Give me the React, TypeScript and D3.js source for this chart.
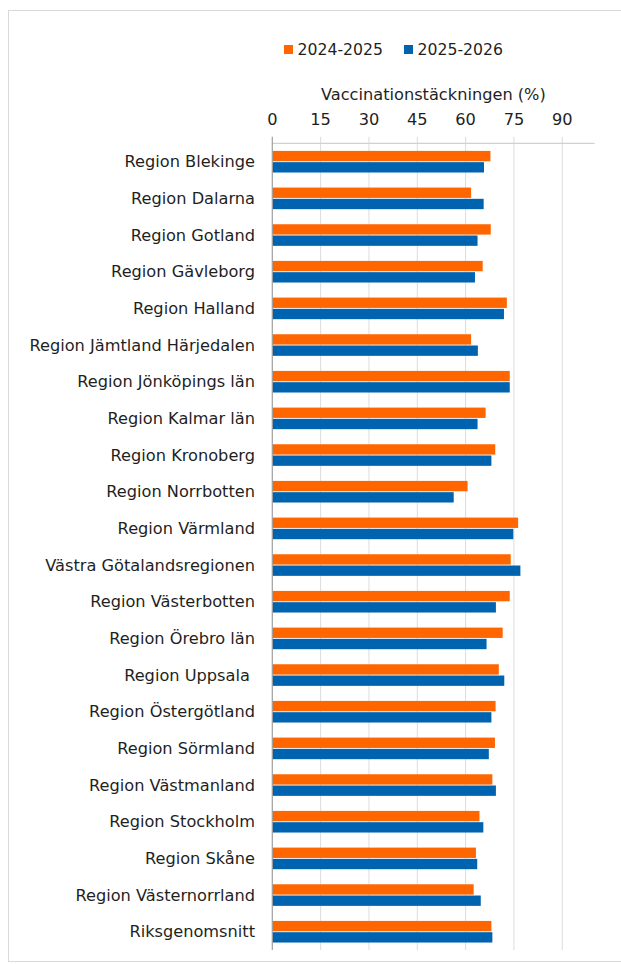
import React from "react"
import * as d3 from "d3"

const regions = [
  "Region Blekinge",
  "Region Dalarna",
  "Region Gotland",
  "Region Gävleborg",
  "Region Halland",
  "Region Jämtland Härjedalen",
  "Region Jönköpings län",
  "Region Kalmar län",
  "Region Kronoberg",
  "Region Norrbotten",
  "Region Värmland",
  "Västra Götalandsregionen",
  "Region Västerbotten",
  "Region Örebro län",
  "Region Uppsala ",
  "Region Östergötland",
  "Region Sörmland",
  "Region Västmanland",
  "Region Stockholm",
  "Region Skåne",
  "Region Västernorrland",
  "Riksgenomsnitt",
]

const seriesNames = ["2024-2025", "2025-2026"]
const seriesColors = ["#ff6600", "#0063b0"]

const v2425 = [67.7, 61.7, 67.8, 65.3, 72.8, 61.7, 73.7, 66.2, 69.2, 60.6, 76.3, 74.0, 73.7, 71.5, 70.3, 69.3, 69.1, 68.3, 64.3, 63.2, 62.5, 68.0]
const v2526 = [65.7, 65.6, 63.7, 62.9, 71.9, 63.8, 73.7, 63.7, 68.0, 56.3, 74.8, 77.0, 69.4, 66.5, 72.0, 68.0, 67.2, 69.4, 65.5, 63.6, 64.7, 68.3]

const xTicks = [0, 15, 30, 45, 60, 75, 90]
const axisTitle = "Vaccinationstäckningen (%)"

const W = 621
const H = 964
const FONT = "'DejaVu Sans', Verdana, sans-serif"
const TEXT = "#1f1f1f"
const FS = 16.2

export default function App() {
  const plotLeft = 272.3
  const plotRight = 594.5
  const plotTop = 143.3
  const plotBottom = 950

  const x = d3.scaleLinear().domain([0, 100]).range([plotLeft, plotRight])
  const y = d3.scaleBand<string>().domain(regions).range([plotTop, plotBottom]).padding(0)
  const inner = d3
    .scaleBand<string>()
    .domain(seriesNames)
    .range([7.6, 29.2])
    .paddingInner(0.08)

  const values = [v2425, v2526]

  return (
    <svg
      width={W}
      height={H}
      style={{ position: "absolute", left: 0, top: 0, background: "#fff" }}
      fontFamily={FONT}
    >
      {/* chart frame */}
      <rect x={8.5} y={10.5} width={W + 20} height={951} fill="none" stroke="#d9d9d9" />

      {/* legend */}
      {seriesNames.map((s, i) => {
        const lx = i === 0 ? 284 : 404
        return (
          <g key={s} transform={`translate(${lx},0)`}>
            <rect x={0} y={45} width={9} height={9} fill={seriesColors[i]} />
            <text x={13.5} y={50} dy="0.35em" fontSize={15.7} fill={TEXT}>
              {s}
            </text>
          </g>
        )
      })}

      {/* axis title */}
      <text x={(plotLeft + plotRight) / 2} y={94} dy="0.35em" textAnchor="middle" fontSize={FS} fill={TEXT}>
        {axisTitle}
      </text>

      {/* gridlines + tick labels */}
      {xTicks.map((t) => (
        <g key={t}>
          {t > 0 && (
            <line x1={x(t)} x2={x(t)} y1={plotTop - 6.5} y2={plotBottom} stroke="#dcdcdc" strokeWidth={1} />
          )}
          <text x={x(t)} y={119} dy="0.35em" textAnchor="middle" fontSize={FS} fill={TEXT}>
            {t}
          </text>
        </g>
      ))}

      {/* top axis line */}
      <line x1={plotLeft} x2={plotRight} y1={plotTop} y2={plotTop} stroke="#d0d0d0" strokeWidth={1.2} />

      {/* bars */}
      {regions.map((r, ri) =>
        seriesNames.map((s, si) => (
          <rect
            key={r + s}
            x={x(0)}
            y={(y(r) ?? 0) + (inner(s) ?? 0)}
            width={x(values[si][ri]) - x(0)}
            height={inner.bandwidth()}
            fill={seriesColors[si]}
          />
        ))
      )}

      {/* left axis line */}
      <line x1={plotLeft} x2={plotLeft} y1={plotTop - 6.5} y2={plotBottom} stroke="#a0a0a0" strokeWidth={1.2} />

      {/* category labels */}
      {regions.map((r) => (
        <text
          key={r}
          x={255}
          y={(y(r) ?? 0) + y.bandwidth() / 2}
          dy="0.35em"
          textAnchor="end"
          fontSize={FS}
          fill={TEXT}
          style={{ whiteSpace: "pre" }}
        >
          {r}
        </text>
      ))}
    </svg>
  )
}
